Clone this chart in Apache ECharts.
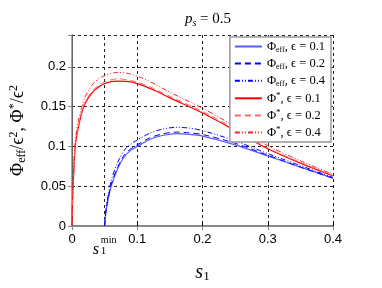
<!DOCTYPE html>
<html><head><meta charset="utf-8">
<script src="https://cdn.jsdelivr.net/npm/echarts@6/dist/echarts.min.js"></script>
<style>html,body{margin:0;padding:0;background:#fff}#c{width:382px;height:288px}</style>
</head><body><div id="c"></div>
<script>
// ---- data ----
const sStar = [0, 0.001, 0.002, 0.005, 0.01, 0.018, 0.025, 0.035, 0.05, 0.07, 0.09, 0.11, 0.13, 0.15, 0.2, 0.25, 0.3, 0.35, 0.4];
const star01 = [0, 0.035, 0.055, 0.1, 0.125, 0.15, 0.161, 0.171, 0.179, 0.182, 0.181, 0.176, 0.169, 0.161, 0.142, 0.12, 0.097, 0.079, 0.063];
const star02 = [0, 0.036, 0.056, 0.101, 0.127, 0.152, 0.163, 0.173, 0.181, 0.185, 0.183, 0.178, 0.171, 0.163, 0.144, 0.122, 0.098, 0.08, 0.063];
const star04 = [0, 0.038, 0.06, 0.107, 0.133, 0.158, 0.17, 0.181, 0.189, 0.193, 0.191, 0.185, 0.177, 0.168, 0.148, 0.125, 0.101, 0.082, 0.065];
const sEff = [0.05, 0.052, 0.055, 0.06, 0.07, 0.08, 0.09, 0.1, 0.12, 0.14, 0.16, 0.18, 0.2, 0.25, 0.3, 0.35, 0.4];
const eff01 = [0, 0.018, 0.032, 0.05, 0.072, 0.087, 0.095, 0.1, 0.109, 0.114, 0.116, 0.115, 0.113, 0.102, 0.088, 0.074, 0.06];
const eff02 = [0, 0.019, 0.033, 0.052, 0.074, 0.089, 0.097, 0.102, 0.111, 0.116, 0.118, 0.117, 0.115, 0.104, 0.089, 0.074, 0.06];
const eff04 = [0, 0.021, 0.037, 0.057, 0.08, 0.095, 0.103, 0.108, 0.117, 0.122, 0.124, 0.123, 0.12, 0.107, 0.091, 0.076, 0.061];
const epsLabels = ['0.1', '0.2', '0.4'];
const sMin = 0.05;
const xTicks = [0, 0.1, 0.2, 0.3, 0.4];
const yTicks = [0, 0.05, 0.1, 0.15, 0.2];

const zip = (xs, ys) => xs.map((x, i) => [x, ys[i]]);
const serif = "'Liberation Serif','DejaVu Serif',serif";
const sans = "'Liberation Sans',Arial,sans-serif";
const dashPat = [6, 4];
const dotPat = [5, 2, 1, 2, 1, 2];

function mk(name, data, color, type, width, extra) {
  return Object.assign({
    name, type: 'line', data, showSymbol: false, symbol: 'none', smooth: 0.3,
    lineStyle: { color, width, type }, itemStyle: { color }, z: 3
  }, extra || {});
}

const names = ['eff-0.1', 'eff-0.2', 'eff-0.4', 'star-0.1', 'star-0.2', 'star-0.4'];
const legendText = {};
names.forEach((n, i) => {
  const e = epsLabels[i % 3];
  legendText[n] = i < 3 ? '{m|Φ}{sub|eff}{m|, ϵ = ' + e + '}' : '{m|Φ}{sup|*}{m|, ϵ = ' + e + '}';
});

const chart = echarts.init(document.getElementById('c'), null, { renderer: 'canvas' });
const option = {
  animation: false,
  backgroundColor: '#fff',
  title: {
    text: '{i|p}{sub|s}{m| = 0.5}', left: 203, top: 6, textAlign: 'center',
    textStyle: { fontWeight: 'normal', rich: {
      i: { fontFamily: serif, fontStyle: 'italic', fontWeight: 'normal', fontSize: 15, lineHeight: 17, color: '#000' },
      sub: { fontFamily: serif, fontStyle: 'italic', fontWeight: 'normal', fontSize: 10, lineHeight: 9, verticalAlign: 'bottom', color: '#000' },
      m: { fontFamily: serif, fontWeight: 'normal', fontSize: 15, lineHeight: 17, color: '#000' }
    } }
  },
  grid: { left: 72, right: 49, top: 35, bottom: 61 },
  legend: {
    orient: 'vertical', right: 51, top: 37, padding: [3, 6, 3, 4],
    itemWidth: 27, itemHeight: 13, itemGap: 3.6,
    itemStyle: { opacity: 0 },
    backgroundColor: '#fff', borderColor: '#999', borderWidth: 1.5,
    data: names,
    formatter: n => legendText[n],
    textStyle: { rich: {
      m: { fontFamily: serif, fontSize: 12.5, lineHeight: 14, color: '#000' },
      sub: { fontFamily: serif, fontSize: 8, lineHeight: 8, verticalAlign: 'bottom', color: '#000' },
      sup: { fontFamily: serif, fontSize: 9, lineHeight: 8, verticalAlign: 'top', color: '#000' }
    } }
  },
  xAxis: [{
    type: 'value', min: 0, max: 0.4, interval: 0.1,
    name: '{i|s}{sub|1}', nameLocation: 'middle', nameGap: 37,
    nameTextStyle: { rich: {
      i: { fontFamily: serif, fontStyle: 'italic', fontSize: 20, lineHeight: 20, color: '#000' },
      sub: { fontFamily: serif, fontSize: 13, lineHeight: 11, verticalAlign: 'bottom', color: '#000' }
    } },
    axisLine: { lineStyle: { color: '#000', width: 1 } },
    axisTick: { inside: true, length: 4, lineStyle: { color: '#000' } },
    axisLabel: { color: '#000', fontFamily: sans, fontSize: 13, margin: 7,
      formatter: v => xTicks.includes(+v.toFixed(2)) ? String(+v.toFixed(2)) : '' },
    splitLine: { show: true, lineStyle: { type: [3, 3], color: '#222', width: 1 } }
  }, {
    type: 'value', min: 0, max: 0.4, interval: 0.1, position: 'top',
    axisLine: { show: true, lineStyle: { color: '#888', width: 2 } },
    axisTick: { inside: true, length: 4, lineStyle: { color: '#888' } },
    axisLabel: { show: false }, splitLine: { show: false }
  }],
  yAxis: [{
    type: 'value', min: 0, max: 0.24, interval: 0.05,
    name: '{m|Φ}{sub|eff}{m|/ϵ}{sup|2}{m|, Φ}{sup|*}{m|/ϵ}{sup|2}',
    nameLocation: 'middle', nameGap: 44, nameRotate: 90,
    nameTextStyle: { rich: {
      m: { fontFamily: serif, fontSize: 18, lineHeight: 20, color: '#000' },
      sub: { fontFamily: serif, fontSize: 12, lineHeight: 11, verticalAlign: 'bottom', color: '#000' },
      sup: { fontFamily: serif, fontSize: 12, lineHeight: 11, verticalAlign: 'top', color: '#000' }
    } },
    axisLine: { show: true, lineStyle: { color: '#000', width: 1 } },
    axisTick: { show: true, inside: false, length: 4, lineStyle: { color: '#000' } },
    axisLabel: { color: '#000', fontFamily: sans, fontSize: 13, margin: 6,
      formatter: v => yTicks.includes(+v.toFixed(2)) ? String(+v.toFixed(2)) : '' },
    splitLine: { show: true, lineStyle: { type: [3, 3], color: '#222', width: 1 } }
  }, {
    type: 'value', min: 0, max: 0.24, interval: 0.05, position: 'right',
    axisLine: { show: true, lineStyle: { color: '#888', width: 1.5 } },
    axisTick: { show: true, inside: true, length: 4, lineStyle: { color: '#888' } },
    axisLabel: { show: false }, splitLine: { show: false }
  }],
  series: [
    mk(names[0], zip(sEff, eff01), '#5a5aff', 'solid', 1.2, {
      markLine: {
        silent: true, symbol: 'none', z: 1,
        lineStyle: { type: [3, 3], color: '#222', width: 1 },
        label: {
          position: 'start', distance: 11,
          formatter: '{sp|}{sup|min}\n{s|s}{sub|1}',
          rich: {
            sp: { width: 8, lineHeight: 6 },
            sup: { fontFamily: serif, fontSize: 10, lineHeight: 6, width: 16, align: 'left', color: '#000' },
            s: { fontFamily: serif, fontStyle: 'italic', fontSize: 16, lineHeight: 14, width: 8, align: 'left', color: '#000' },
            sub: { fontFamily: serif, fontSize: 11, lineHeight: 9, width: 16, align: 'left', verticalAlign: 'bottom', color: '#000' }
          }
        },
        data: [{ xAxis: sMin }]
      }
    }),
    mk(names[1], zip(sEff, eff02), '#0000ff', dashPat, 1),
    mk(names[2], zip(sEff, eff04), '#0000ff', dotPat, 1),
    mk(names[3], zip(sStar, star01), '#ff0000', 'solid', 1.2),
    mk(names[4], zip(sStar, star02), '#ff6666', dashPat, 1),
    mk(names[5], zip(sStar, star04), '#ff2020', dotPat, 1)
  ]
};
chart.setOption(option);
</script></body></html>
